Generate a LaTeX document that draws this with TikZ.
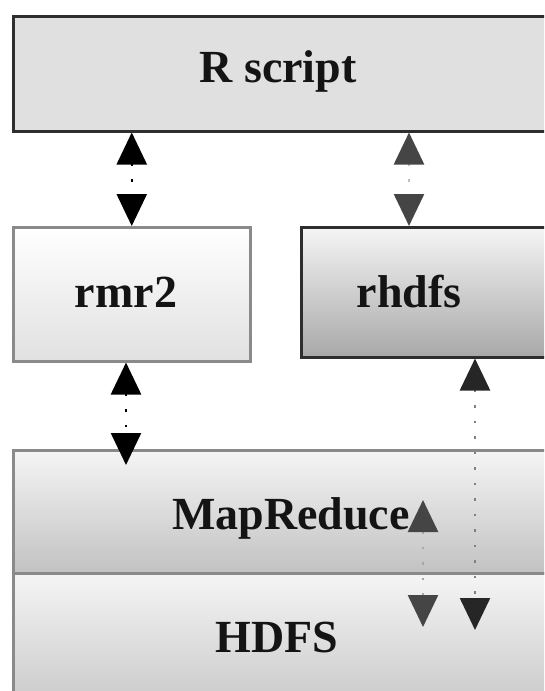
\documentclass[tikz,border=0pt]{standalone}
\usepackage{fontspec}
\setmainfont{Liberation Serif}
\usetikzlibrary{arrows.meta, positioning, calc}

\definecolor{edgedark}{HTML}{2E2E2E}
\definecolor{edgegray}{HTML}{8A8A8A}
\definecolor{headgray}{HTML}{454545}

\begin{document}
\begin{tikzpicture}[
        x=1pt, y=-1pt,
        layer/.style={draw, line width=2.5pt, inner sep=0pt, anchor=north west},
        lbl/.style={font=\fontsize{46}{50}\selectfont\bfseries, text=black!92, anchor=base, inner sep=0pt},
        link/.style={line width=2.5pt, dash pattern=on 2.5pt off 13pt, {Triangle[length=32pt, width=30pt, color=#1]}-{Triangle[length=32pt, width=30pt, color=#1]}}
    ]
    \path[use as bounding box] (0,0) rectangle (544,691);
    \clip (0,0) rectangle (544,691);

    % --- R side ---
    \node[layer, draw=edgedark, fill=black!12, minimum width=560pt, minimum height=115pt] (rscript) at (12,15) {};
    \node[lbl] (rscriptlbl) at (278,82) {R script};

    % --- R packages ---
    \node[layer, draw=edgegray, top color=white, bottom color=black!12, minimum width=237pt, minimum height=134pt] (rmr2) at (12,226) {};
    \node[lbl] (rmr2lbl) at (126,307) {rmr2};

    \node[layer, draw=edgedark, top color=black!4, bottom color=black!34, minimum width=260pt, minimum height=130pt] (rhdfs) at (300,226) {};
    \node[lbl] (rhdfslbl) at (409,307) {rhdfs};

    % --- Hadoop stack ---
    \node[layer, draw=edgegray, top color=black!4, bottom color=black!24, minimum width=560pt, minimum height=123pt] (mapred) at (12,449) {};
    \node[lbl] (mapredlbl) at (291,529) {MapReduce};

    \node[layer, draw=edgegray, top color=black!4, bottom color=black!22, minimum width=560pt, minimum height=140pt] (hdfs) at (12,572) {};
    \node[lbl] (hdfslbl) at (277,652) {HDFS};

    % --- free ends inside the stack ---
    \coordinate (rmr2end) at ($(mapred.north -| rmr2lbl)+(0,16)$);
    \coordinate (mrtop) at (423,500);
    \coordinate (mrbot) at (423,627);
    \coordinate (hdfsend) at (475,630);

    % --- Arrows ---
    \draw[link=black, draw=black] (rscript.south -| rmr2.north) -- (rmr2.north);
    \draw[link=headgray, draw=black!25] (rscript.south -| rhdfslbl) -- (rhdfs.north -| rhdfslbl);
    \draw[link=black, draw=black] (rmr2.south -| rmr2lbl) -- (rmr2end);
    \draw[link=black!85, draw=black!50] (rhdfs.south -| hdfsend) -- (hdfsend);
    \draw[link=headgray, draw=black!35] (mrtop) -- (mrbot);
\end{tikzpicture}
\end{document}
